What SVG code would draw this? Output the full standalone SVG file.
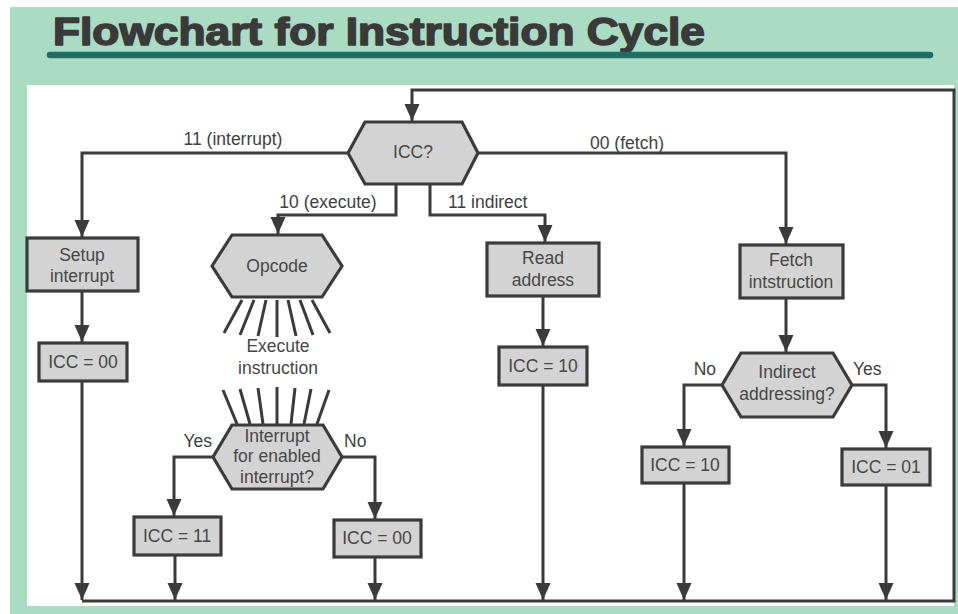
<svg xmlns="http://www.w3.org/2000/svg" width="958" height="614" viewBox="0 0 958 614">
<defs>
<style>
.bg{fill:#ffffff}
.green{fill:#a9dcc2}
.panel{fill:#ffffff}
.node{fill:#d3d3d3;stroke:#3b3b3b;stroke-width:3.2;stroke-linejoin:miter}
.t{font-family:"Liberation Sans",Arial,sans-serif;font-size:17.5px;fill:#474747;text-anchor:middle}
.lbl{font-family:"Liberation Sans",Arial,sans-serif;font-size:17.5px;fill:#3f3f3f}
.c{fill:none;stroke:#3b3b3b;stroke-width:3}
.ray{stroke:#3b3b3b;stroke-width:3;stroke-linecap:butt}
.title{font-family:"Liberation Sans",Arial,sans-serif;font-weight:bold;font-size:38px;fill:#3a3a3a;stroke:#3a3a3a;stroke-width:1.6;stroke-linejoin:round}
</style>
<marker id="ah" markerUnits="userSpaceOnUse" markerWidth="18" markerHeight="18" viewBox="0 0 18 18" refX="17" refY="9" orient="auto">
<path d="M0,1.5 L17,9 L0,16.5 Z" fill="#3b3b3b"/>
</marker>
</defs>
<rect class="bg" x="0" y="0" width="958" height="614"/>
<rect class="green" x="10" y="7" width="948" height="607"/>
<rect class="panel" x="27" y="85" width="927" height="521"/>
<text class="title" x="53" y="45" textLength="652" lengthAdjust="spacingAndGlyphs">Flowchart for Instruction Cycle</text>
<line x1="50" y1="55" x2="930" y2="55" stroke="#1f6b66" stroke-width="6.5" stroke-linecap="round"/>

<g id="connectors">
<path class="c" d="M82,601 H954 V90 H412 V121" marker-end="url(#ah)"/>
<path class="c" d="M348,153 H82 V237" marker-end="url(#ah)"/>
<path class="c" d="M396,184 V215 H278 V234" marker-end="url(#ah)"/>
<path class="c" d="M430,184 V215 H545 V242" marker-end="url(#ah)"/>
<path class="c" d="M478,153 H786 V244" marker-end="url(#ah)"/>
<path class="c" d="M82,291 V342" marker-end="url(#ah)"/>
<path class="c" d="M543,296 V346" marker-end="url(#ah)"/>
<path class="c" d="M786,298 V352" marker-end="url(#ah)"/>
<path class="c" d="M213,457 H174 V516" marker-end="url(#ah)"/>
<path class="c" d="M342,457 H375 V519" marker-end="url(#ah)"/>
<path class="c" d="M722,385 H684 V446" marker-end="url(#ah)"/>
<path class="c" d="M852,385 H886 V448" marker-end="url(#ah)"/>
<path class="c" d="M82,381 V600" marker-end="url(#ah)"/>
<path class="c" d="M175,555 V600" marker-end="url(#ah)"/>
<path class="c" d="M375,557 V600" marker-end="url(#ah)"/>
<path class="c" d="M543,385 V600" marker-end="url(#ah)"/>
<path class="c" d="M684,483 V600" marker-end="url(#ah)"/>
<path class="c" d="M886,485 V600" marker-end="url(#ah)"/>
<text class="lbl" x="233" y="145" text-anchor="middle">11 (interrupt)</text>
<text class="lbl" x="328" y="208" text-anchor="middle">10 (execute)</text>
<text class="lbl" x="448" y="208">11 indirect</text>
<text class="lbl" x="627" y="149" text-anchor="middle">00 (fetch)</text>
<text class="lbl" x="212" y="447" text-anchor="end">Yes</text>
<text class="lbl" x="344" y="447">No</text>
<text class="lbl" x="716" y="375" text-anchor="end">No</text>
<text class="lbl" x="853" y="375">Yes</text>
</g>

<g id="icc">
<polygon class="node" points="348,153 365,122 462,122 478,153 462,184 365,184"/>
<text class="t" x="413" y="158">ICC?</text>
</g>

<g id="setup-interrupt">
<rect class="node" x="27" y="238" width="111" height="53"/>
<text class="t" x="82" y="261">Setup</text>
<text class="t" x="82" y="282">interrupt</text>
</g>

<g id="opcode">
<polygon class="node" points="212,266 232,235 322,235 342,266 322,297 232,297"/>
<text class="t" x="277" y="272">Opcode</text>
<g class="rays">
<line class="ray" x1="242" y1="300" x2="224" y2="333"/>
<line class="ray" x1="254" y1="300" x2="240" y2="335"/>
<line class="ray" x1="266" y1="300" x2="258" y2="336"/>
<line class="ray" x1="277" y1="300" x2="277" y2="337"/>
<line class="ray" x1="288" y1="300" x2="296" y2="336"/>
<line class="ray" x1="300" y1="300" x2="313" y2="335"/>
<line class="ray" x1="312" y1="300" x2="330" y2="333"/>
</g>
</g>

<g id="execute-instruction">
<text class="t" x="278" y="352">Execute</text>
<text class="t" x="278" y="374">instruction</text>
</g>

<g id="interrupt-enabled">
<g class="rays">
<line class="ray" x1="237" y1="424" x2="223" y2="390"/>
<line class="ray" x1="250" y1="424" x2="240" y2="389"/>
<line class="ray" x1="263" y1="424" x2="258" y2="388"/>
<line class="ray" x1="277" y1="424" x2="277" y2="387"/>
<line class="ray" x1="291" y1="424" x2="295" y2="388"/>
<line class="ray" x1="304" y1="424" x2="311" y2="389"/>
<line class="ray" x1="317" y1="424" x2="329" y2="390"/>
</g>
<polygon class="node" points="213,457 232,425 323,425 342,457 323,489 232,489"/>
<text class="t" x="277" y="442">Interrupt</text>
<text class="t" x="277" y="462">for enabled</text>
<text class="t" x="277" y="483">interrupt?</text>
</g>

<g id="read-address">
<rect class="node" x="487" y="243" width="112" height="53"/>
<text class="t" x="543" y="264">Read</text>
<text class="t" x="543" y="286">address</text>
</g>

<g id="fetch-instruction">
<rect class="node" x="740" y="245" width="103" height="53"/>
<text class="t" x="791" y="266">Fetch</text>
<text class="t" x="791" y="288">intstruction</text>
</g>

<g id="indirect-addressing">
<polygon class="node" points="722,385 741,353 833,353 852,385 833,417 741,417"/>
<text class="t" x="787" y="378">Indirect</text>
<text class="t" x="787" y="400">addressing?</text>
</g>

<g id="icc00-a">
<rect class="node" x="39" y="343" width="88" height="38"/>
<text class="t" x="83" y="368">ICC = 00</text>
</g>
<g id="icc10-a">
<rect class="node" x="499" y="347" width="88" height="38"/>
<text class="t" x="543" y="372">ICC = 10</text>
</g>
<g id="icc11">
<rect class="node" x="134" y="517" width="87" height="38"/>
<text class="t" x="177" y="542">ICC = 11</text>
</g>
<g id="icc00-b">
<rect class="node" x="334" y="520" width="87" height="37"/>
<text class="t" x="377" y="544">ICC = 00</text>
</g>
<g id="icc10-b">
<rect class="node" x="642" y="447" width="87" height="36"/>
<text class="t" x="685" y="471">ICC = 10</text>
</g>
<g id="icc01">
<rect class="node" x="842" y="449" width="88" height="36"/>
<text class="t" x="886" y="473">ICC = 01</text>
</g>
</svg>
